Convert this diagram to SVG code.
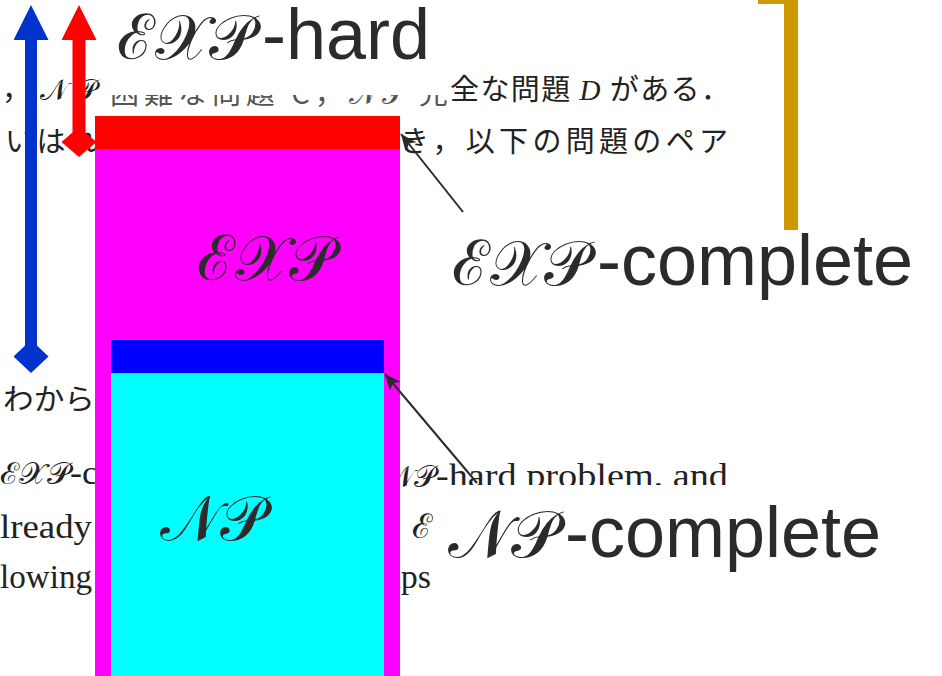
<svg xmlns="http://www.w3.org/2000/svg" width="942" height="676" viewBox="0 0 942 676">
<defs>
<style>
.scan{font-family:"Liberation Serif","Noto Sans CJK JP",serif;font-size:34px;fill:#222}
.cjk{font-family:"Noto Sans CJK JP","Liberation Serif",sans-serif;font-size:29px;fill:#222}
.faded{fill:#555}
.lbl{font-family:"Liberation Sans",Arial,sans-serif;font-size:72px;fill:#2b2b2b}
.scr{font-family:"DejaVu Serif","Noto Sans",serif;font-weight:normal}
.big{font-size:63px}
.bg{fill:#fff}
.conn{stroke:#2b2b2b;stroke-width:2;fill:none}
</style>
<marker id="ah" markerUnits="userSpaceOnUse" markerWidth="18" markerHeight="14" refX="16" refY="7" orient="auto"><path d="M0,0 L16,7 L0,14 L4,7 z" fill="#2b2b2b"/></marker>
<marker id="triB" markerUnits="userSpaceOnUse" markerWidth="36" markerHeight="36" refX="0" refY="17.5" orient="auto"><path d="M0,0 L35,17.5 L0,35 z" fill="#0033cc"/></marker>
<marker id="triR" markerUnits="userSpaceOnUse" markerWidth="36" markerHeight="36" refX="0" refY="17.5" orient="auto"><path d="M0,0 L35,17.5 L0,35 z" fill="#ff0000"/></marker>
<marker id="diaB" markerUnits="userSpaceOnUse" markerWidth="34" markerHeight="36" refX="16.5" refY="17.5" orient="auto"><path d="M0,17.5 L16.5,0 L33,17.5 L16.5,35 z" fill="#0033cc"/></marker>
<marker id="diaR" markerUnits="userSpaceOnUse" markerWidth="31" markerHeight="36" refX="15" refY="17.5" orient="auto"><path d="M0,17.5 L15,0 L30,17.5 L15,35 z" fill="#ff0000"/></marker>
</defs>

<g id="scan-text">
<text class="cjk" x="2" y="100" textLength="95">，<tspan class="scr">𝒩𝒫</tspan></text>
<text class="cjk faded" x="110" y="104" textLength="338">困難な問題 C，<tspan class="scr">𝒩𝒫</tspan> 完</text>
<text class="cjk" x="450" y="100" textLength="280">全な問題 <tspan font-family="Liberation Serif" font-style="italic">D</tspan> がある．</text>
<text class="cjk" x="5" y="152" textLength="92">いはれ</text>
<text class="cjk" x="400" y="152" textLength="328">き，以下の問題のペア</text>
<text class="cjk" x="3" y="410" textLength="92" lengthAdjust="spacingAndGlyphs">わから</text>
<text class="scan" x="0" y="484" textLength="98" lengthAdjust="spacingAndGlyphs"><tspan class="scr" font-size="30">ℰ𝒳𝒫</tspan>-c</text>
<text class="scan" x="436" y="487" text-anchor="end"><tspan class="scr" font-size="30">𝒩𝒫</tspan></text>
<text class="scan" x="436" y="487" textLength="292" lengthAdjust="spacingAndGlyphs">-hard problem, and</text>
<text class="scan" x="0" y="538" textLength="92" lengthAdjust="spacingAndGlyphs">lready</text>
<text class="scan scr" x="412" y="538">ℰ</text>
<text class="scan" x="0" y="588" textLength="92" lengthAdjust="spacingAndGlyphs">lowing</text>
<text class="scan" x="431" y="588" text-anchor="end">groups</text>
</g>

<g id="label-backgrounds">
<rect class="bg" x="103" y="0" width="347" height="95"/>
<rect class="bg" x="434" y="485" width="470" height="115"/>
</g>

<g id="bracket">
<rect x="758" y="-10" width="40" height="14" fill="#cc9a00"/>
<rect x="784" y="-10" width="14" height="240" fill="#cc9a00"/>
</g>

<g id="exp-box">
<rect x="95" y="149" width="305" height="540" fill="#ff00ff"/>
<text class="lbl scr big" x="197" y="280">ℰ𝒳𝒫</text>
</g>
<g id="exp-complete-bar">
<rect x="95" y="116" width="305" height="33" fill="#ff0000"/>
</g>
<g id="np-box">
<rect x="111" y="373" width="273" height="310" fill="#00ffff"/>
<text class="lbl scr big" x="160" y="540">𝒩𝒫</text>
</g>
<g id="np-complete-bar">
<rect x="111" y="340" width="273" height="33" fill="#0000ff"/>
</g>

<g id="exp-hard-label">
<text class="lbl" y="59"><tspan class="scr big" x="117">ℰ𝒳𝒫</tspan><tspan x="262">-hard</tspan></text>
</g>
<g id="exp-complete-label">
<text class="lbl" y="285"><tspan class="scr big" x="452">ℰ𝒳𝒫</tspan><tspan x="597">-complete</tspan></text>
</g>
<g id="np-complete-label">
<text class="lbl" y="557"><tspan class="scr" font-size="66" x="448">𝒩𝒫</tspan><tspan x="565">-complete</tspan></text>
</g>

<g id="connectors">
<line x1="31" y1="356.5" x2="31" y2="40" stroke="#0033cc" stroke-width="12" marker-start="url(#diaB)" marker-end="url(#triB)"/>
<line x1="79" y1="142" x2="79" y2="40" stroke="#ff0000" stroke-width="13" marker-start="url(#diaR)" marker-end="url(#triR)"/>
<line class="conn" x1="463" y1="212" x2="401" y2="134" marker-end="url(#ah)"/>
<line class="conn" x1="477" y1="483" x2="385" y2="374" marker-end="url(#ah)"/>
</g>
</svg>
